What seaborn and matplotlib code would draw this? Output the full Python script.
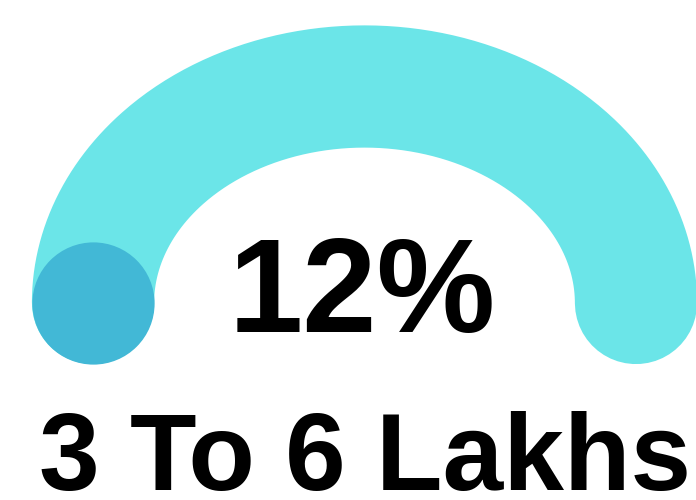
import numpy as np
import pandas as pd
import matplotlib
matplotlib.use("Agg")
import matplotlib.pyplot as plt
import seaborn as sns

# Gauge content
share_value = 12
share_label = "12%"
band_label = "3 To 6 Lakhs"

# Track runs over a half circle (degrees), knob sits at the start of the track
track_start_deg = 180
track_end_deg = 0

track_color = "#6BE5E8"
knob_color = "#42B8D6"

sns.set_theme(style="white")
plt.rcParams["font.family"] = ["Liberation Sans", "DejaVu Sans"]

fig = plt.figure(figsize=(6.96, 5.0), dpi=100)
ax = fig.add_axes([0, 0, 1, 1])
ax.set_axis_off()

theta = np.radians(np.linspace(track_start_deg, track_end_deg, 361))
track = pd.DataFrame({"x": np.cos(theta), "y": np.sin(theta)})
sns.lineplot(data=track, x="x", y="y", sort=False, ax=ax, color=track_color,
             linewidth=88, solid_capstyle="round", legend=False)

knob = pd.DataFrame({"x": [np.cos(np.radians(track_start_deg))],
                     "y": [np.sin(np.radians(track_start_deg))]})
sns.scatterplot(data=knob, x="x", y="y", ax=ax, color=knob_color, s=88 ** 2,
                linewidth=0, legend=False, zorder=3)

ax.set_xlim(-1.3425, 1.221)
ax.set_ylim(-0.91, 1.3995)

ax.text(0.520, 0.336, share_label, transform=ax.transAxes, ha="center",
        va="baseline", fontsize=96, fontweight="bold", color="black")
ax.text(0.525, 0.02, band_label, transform=ax.transAxes, ha="center",
        va="baseline", fontsize=78.5, fontweight="bold", color="black")

fig.savefig("out.png", dpi=100)
